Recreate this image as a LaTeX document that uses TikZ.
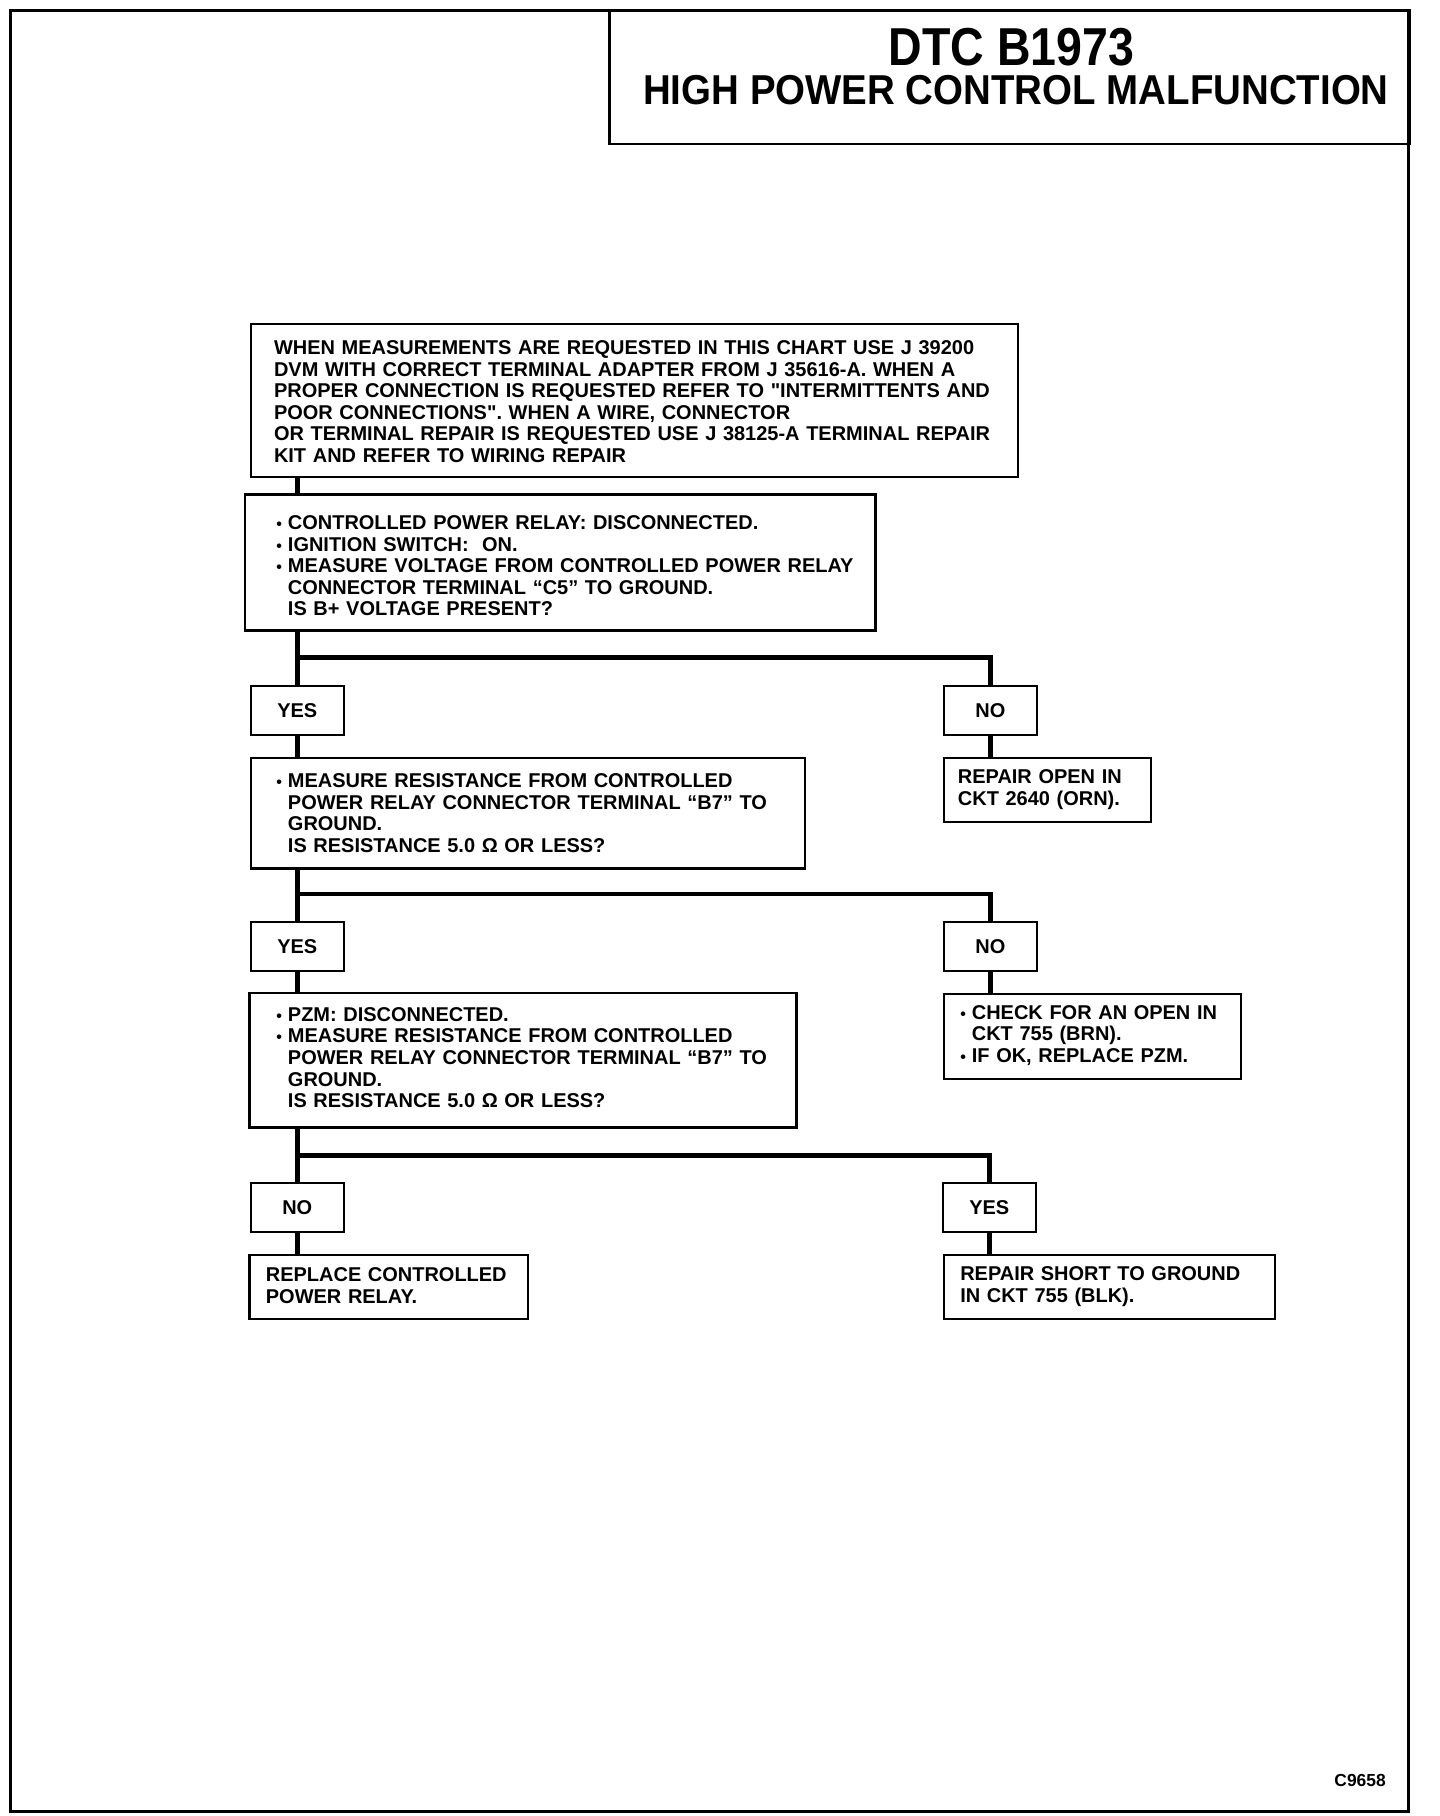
\documentclass[tikz,border=0pt]{standalone}
\usepackage{fontspec}
\setmainfont{Liberation Sans}
\frenchspacing

% bullet and hanging indent for the check lists
\newcommand{\itm}{\makebox[10pt][l]{\scalebox{0.8}{•}}}
\newcommand{\cnt}{\hspace*{10pt}}
\newcommand{\lines}[2][0pt]{\raisebox{-#1}[\height][\depth]{\begin{tabular}{@{}l@{}}#2\end{tabular}}}

\tikzset{
    txt/.style={font=\bfseries\fontsize{17.2}{18.6}\selectfont},
    stepbox/.style={txt,draw,line width=2pt,anchor=north west,align=left,inner ysep=0pt},
    answer/.style={txt,draw,line width=2pt,anchor=north west,inner sep=0pt,minimum width=80pt,minimum height=42pt},
    flow/.style={line width=4pt},
}

\begin{document}
\begin{tikzpicture}[x=1pt,y=-1pt]

    \useasboundingbox (0,0) rectangle (1240,1564);

    %%%%%%%%%%%%%%%%%%%%%%%%%%%%%%%%%%%%%%%%%%%%%%%%%%%%%%

    % sheet frame
    \draw[line width=3pt] (9,9) rectangle (1213,1560);

    % title block
    \node[draw,line width=2pt,anchor=north west,minimum width=689pt,minimum height=115pt,inner sep=0pt] (title) at (524,8) {};
    \node[font=\bfseries\fontsize{46}{46}\selectfont] (code) at (871,41) {\scalebox{0.87}[1]{DTC B1973}};
    \node[font=\bfseries\fontsize{36}{36}\selectfont] (name) at (875,78) {\scalebox{0.92}[1]{HIGH POWER CONTROL MALFUNCTION}};

    % figure number
    \node[txt,anchor=east,font=\bfseries\fontsize{15}{15}\selectfont] (fig) at (1197,1533) {C9658};

    %%%%%%%%%%%%%%%%%%%%%%%%%%%%%%%%%%%%%%%%%%%%%%%%%%%%%%

    % tool note
    \node[stepbox,inner xsep=20pt,text width=621pt,minimum height=132pt] (note) at (215,278) {\lines[3pt]{%
        WHEN MEASUREMENTS ARE REQUESTED IN THIS CHART USE J 39200\\
        DVM WITH CORRECT TERMINAL ADAPTER FROM J 35616-A. WHEN A\\
        PROPER CONNECTION IS REQUESTED REFER TO \textquotedbl INTERMITTENTS AND\\
        POOR CONNECTIONS\textquotedbl. WHEN A WIRE, CONNECTOR\\
        OR TERMINAL REPAIR IS REQUESTED USE J 38125-A TERMINAL REPAIR\\
        KIT AND REFER TO WIRING REPAIR}};

    % voltage check at C5
    \node[stepbox,inner xsep=27pt,text width=489pt,minimum height=117pt] (relay) at (210,425) {\lines[5pt]{%
        \itm CONTROLLED POWER RELAY: DISCONNECTED.\\
        \itm IGNITION SWITCH:\ \ ON.\\
        \itm MEASURE VOLTAGE FROM CONTROLLED POWER RELAY\\
        \cnt CONNECTOR TERMINAL “C5” TO GROUND.\\
        \cnt IS B+ VOLTAGE PRESENT?}};

    %%%%%%%%%%%%%%%%%%%%%%%%%%%%%%%%%%%%%%%%%%%%%%%%%%%%%%

    % first answer
    \node[answer] (yes1) at (215,590) {YES};
    \node[answer] (no1) at (812,590) {NO};

    % resistance check at B7
    \node[stepbox,inner xsep=22pt,text width=433pt,minimum height=95pt] (res) at (215,652) {\lines[2pt]{%
        \itm MEASURE RESISTANCE FROM CONTROLLED\\
        \cnt POWER RELAY CONNECTOR TERMINAL “B7” TO\\
        \cnt GROUND.\\
        \cnt IS RESISTANCE 5.0 Ω OR LESS?}};

    % open in feed circuit
    \node[stepbox,inner xsep=12pt,text width=154pt,minimum height=55pt] (open) at (812,652) {\lines{%
        REPAIR OPEN IN\\
        CKT 2640 (ORN).}};

    %%%%%%%%%%%%%%%%%%%%%%%%%%%%%%%%%%%%%%%%%%%%%%%%%%%%%%

    % second answer
    \node[answer] (yes2) at (215,793) {YES};
    \node[answer] (no2) at (812,793) {NO};

    % resistance check with PZM off
    \node[stepbox,inner xsep=23pt,text width=425pt,minimum height=116pt] (pzm) at (214,854) {\lines{%
        \itm PZM: DISCONNECTED.\\
        \itm MEASURE RESISTANCE FROM CONTROLLED\\
        \cnt POWER RELAY CONNECTOR TERMINAL “B7” TO\\
        \cnt GROUND.\\
        \cnt IS RESISTANCE 5.0 Ω OR LESS?}};

    % open in ground circuit
    \node[stepbox,inner xsep=14pt,text width=228pt,minimum height=73pt] (chk) at (812,855) {\lines{%
        \itm CHECK FOR AN OPEN IN\\
        \cnt CKT 755 (BRN).\\
        \itm IF OK, REPLACE PZM.}};

    %%%%%%%%%%%%%%%%%%%%%%%%%%%%%%%%%%%%%%%%%%%%%%%%%%%%%%

    % third answer
    \node[answer] (no3) at (215,1018) {NO};
    \node[answer] (yes3) at (811,1018) {YES};

    % relay at fault
    \node[stepbox,inner xsep=14pt,text width=212pt,minimum height=55pt] (replace) at (214,1080) {\lines[1pt]{%
        REPLACE CONTROLLED\\
        POWER RELAY.}};

    % short in ground circuit
    \node[stepbox,inner xsep=14pt,text width=257pt,minimum height=55pt] (short) at (812,1080) {\lines{%
        REPAIR SHORT TO GROUND\\
        IN CKT 755 (BLK).}};

    %%%%%%%%%%%%%%%%%%%%%%%%%%%%%%%%%%%%%%%%%%%%%%%%%%%%%%

    % branch points
    \coordinate (br1) at (254,566);
    \coordinate (br2) at (254,770);
    \coordinate (br3) at (254,995);

    % connectors
    \draw[flow] (note.south -| yes1) -- (relay.north -| yes1);
    \draw[flow] (relay.south -| yes1) -- (yes1.north);
    \draw[flow,line join=miter] (br1) -| (no1.north);
    \draw[flow] (yes1.south) -- (res.north -| yes1);
    \draw[flow] (no1.south) -- (open.north -| no1);

    \draw[flow] (res.south -| yes2) -- (yes2.north);
    \draw[flow,line join=miter] (br2) -| (no2.north);
    \draw[flow] (yes2.south) -- (pzm.north -| yes2);
    \draw[flow] (no2.south) -- (chk.north -| no2);

    \draw[flow] (pzm.south -| no3) -- (no3.north);
    \draw[flow,line join=miter] (br3) -| (yes3.north);
    \draw[flow] (no3.south) -- (replace.north -| no3);
    \draw[flow] (yes3.south) -- (short.north -| yes3);

\end{tikzpicture}
\end{document}
